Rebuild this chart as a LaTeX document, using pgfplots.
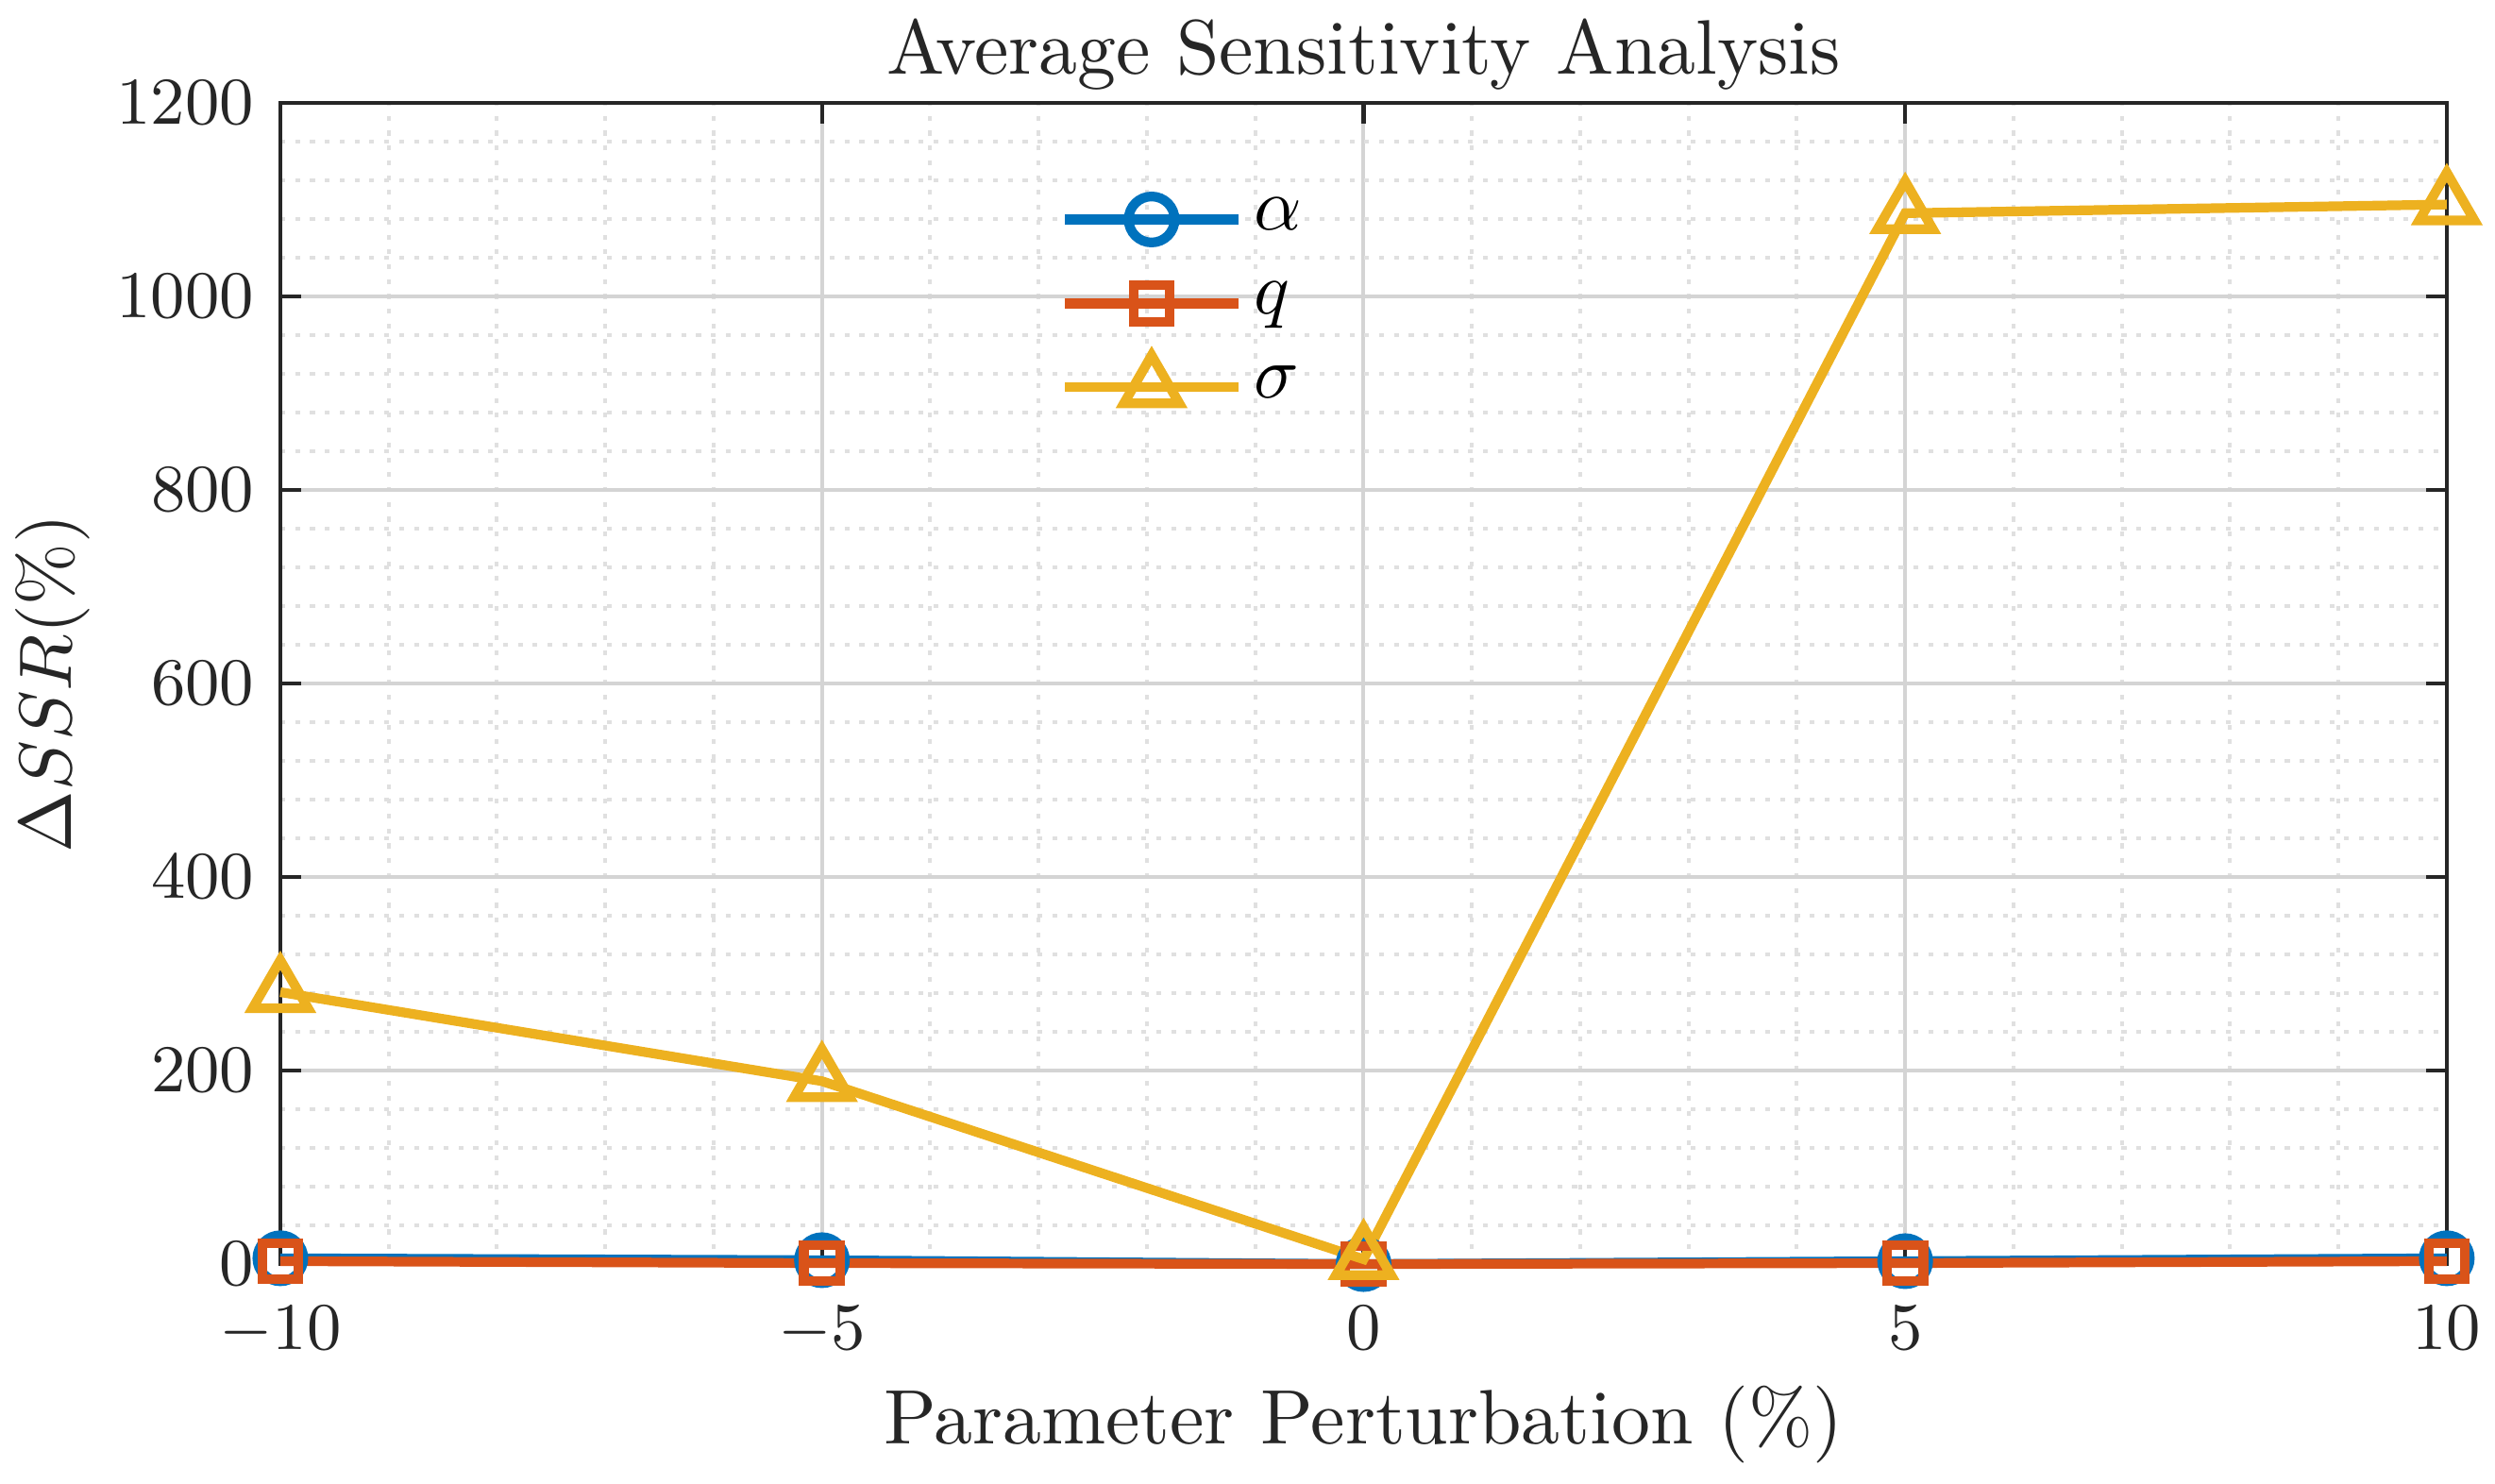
\documentclass[border=0pt]{standalone}
\usepackage{pgfplots}
\pgfplotsset{compat=1.18}
\definecolor{mblue}{RGB}{0,114,189}
\definecolor{morange}{RGB}{217,83,25}
\definecolor{myellow}{RGB}{237,177,32}
\definecolor{axgray}{RGB}{38,38,38}
\begin{document}
\begin{tikzpicture}
\begin{axis}[
  scale only axis, width=291.8pt, height=156.4pt,
  xmin=-10, xmax=10, ymin=0, ymax=1200,
  xtick={-10,-5,0,5,10}, ytick={0,200,400,600,800,1000,1200},
  minor x tick num=4, minor y tick num=4,
  grid=both,
  major grid style={line width=0.5pt, draw=black!17},
  minor grid style={line width=0.5pt, draw=black!12, dash pattern=on 0.65pt off 1.35pt},
  axis line style={line width=0.55pt, draw=axgray},
  tick style={line width=0.55pt, draw=axgray},
  major tick length=2.8pt, minor tick length=0pt,
  tick align=inside,
  xtick pos=both, ytick pos=both,
  ticklabel style={font=\fontsize{9.4}{11}\selectfont, text=axgray},
  xticklabel style={anchor=base, yshift=-11.5pt},
  scaled y ticks=false,
  yticklabel style={/pgf/number format/1000 sep={}},
  clip=false,
  every axis title shift=0pt,
  title={Average Sensitivity Analysis},
  title style={font=\fontsize{10.4}{12}\selectfont, text=axgray, at={(rel axis cs:0.5,1)}, anchor=base, yshift=3.9pt},
  xlabel={Parameter Perturbation (\%)},
  ylabel={$\Delta SSR(\%)$},
  label style={font=\fontsize{10.4}{12}\selectfont, text=axgray},
  xlabel style={at={(rel axis cs:0.5,0)}, anchor=base, yshift=-24.2pt},
  ylabel style={at={(rel axis cs:-0.0966,0.5)}, anchor=base},
  legend style={draw=none, fill=none, at={(0.349,0.945)}, anchor=north west,
    font=\fontsize{10.4}{12}\selectfont, row sep=1.5pt,
    nodes={inner xsep=1.5pt}},
  legend cell align=left,
  legend image code/.code={
    \draw[mark repeat=2,mark phase=2] plot coordinates {(0cm,0cm) (0.41cm,0cm) (0.82cm,0cm)};
  },
]
\addplot[mblue, line width=1.3pt, mark=o, mark size=3.1pt, mark options={solid, line width=1.3pt}]
  coordinates {(-10,6) (-5,4) (0,0) (5,3) (10,6)};
\addlegendentry{$\alpha$}
\addplot[morange, line width=1.3pt, mark=square, mark size=2.45pt, mark options={solid, line width=1.3pt}]
  coordinates {(-10,3) (-5,1) (0,0) (5,1) (10,3)};
\addlegendentry{$q$}
\addplot[myellow, line width=1.3pt, mark=triangle, mark size=4.3pt, mark options={solid, line width=1.3pt}]
  coordinates {(-10,281) (-5,189) (0,5) (5,1086) (10,1095)};
\addlegendentry{$\sigma$}
\coordinate (SW) at (rel axis cs:0,0);
\coordinate (NE) at (rel axis cs:1,1);
\end{axis}
\pgfresetboundingbox
\path[use as bounding box] ([shift={(-37.76pt,-29.5pt)}]SW) rectangle ([shift={(6.5pt,13.86pt)}]NE);
\end{tikzpicture}
\end{document}
